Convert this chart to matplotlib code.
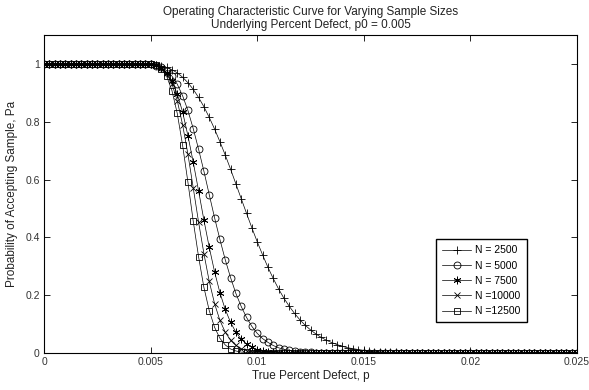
import numpy as np
import matplotlib
matplotlib.use('Agg')
import matplotlib.pyplot as plt

plt.rcParams['font.family'] = ['Liberation Sans', 'DejaVu Sans']

# sampled defect rates (0 to 0.025, step 0.00025)
p = np.linspace(0, 0.025, 101)

labels = ['N = 2500', 'N = 5000', 'N = 7500', 'N =10000', 'N =12500']
# MATLAB-style markers: plus, circle, asterisk, cross, square
markers = ['+', 'o', (6, 2, 0), 'x', 's']
msizes = [6, 5, 5.5, 4, 5]

pa_2500 = [1, 1, 1, 1, 1, 1, 1, 1, 1, 1, 1, 1, 1, 1, 1, 1, 1, 1, 1,
           0.999, 0.998, 0.996, 0.993, 0.988, 0.980, 0.969, 0.954, 0.935, 0.912,
           0.884, 0.852, 0.815, 0.775, 0.731, 0.685, 0.636, 0.585, 0.534, 0.483,
           0.433, 0.385, 0.340, 0.297, 0.258, 0.222, 0.190, 0.162, 0.137, 0.115,
           0.096, 0.080, 0.066, 0.054, 0.044, 0.036, 0.029, 0.023, 0.018, 0.015,
           0.012, 0.009, 0.007, 0.005, 0.004, 0.003, 0.002, 0.002, 0.001, 0.001,
           0, 0, 0, 0, 0, 0, 0, 0, 0, 0, 0, 0, 0, 0, 0, 0,
           0, 0, 0, 0, 0, 0, 0, 0, 0, 0, 0, 0, 0, 0, 0, 0]
pa_5000 = [1, 1, 1, 1, 1, 1, 1, 1, 1, 1, 1, 1, 1, 1, 1, 1, 1, 1, 1,
           0.999, 0.998, 0.994, 0.988, 0.977, 0.958, 0.930, 0.890, 0.839, 0.776,
           0.705, 0.629, 0.548, 0.468, 0.393, 0.323, 0.261, 0.206, 0.161, 0.123,
           0.092, 0.068, 0.050, 0.037, 0.026, 0.018, 0.013, 0.009, 0.006, 0.004,
           0.003, 0.002, 0.001,
           0, 0, 0, 0, 0, 0, 0, 0, 0, 0, 0, 0, 0, 0, 0, 0, 0, 0, 0, 0, 0, 0, 0, 0, 0,
           0, 0, 0, 0, 0, 0, 0, 0, 0, 0, 0, 0, 0, 0, 0, 0, 0, 0, 0, 0, 0, 0, 0, 0]
pa_7500 = [1, 1, 1, 1, 1, 1, 1, 1, 1, 1, 1, 1, 1, 1, 1, 1, 1, 1, 1, 1,
           0.998, 0.995, 0.987, 0.970, 0.941, 0.896, 0.834, 0.752, 0.660, 0.561,
           0.460, 0.366, 0.281, 0.209, 0.151, 0.106, 0.072, 0.048, 0.031, 0.020,
           0.012, 0.007, 0.004, 0.002, 0.001,
           0, 0, 0, 0, 0, 0, 0, 0, 0, 0, 0, 0, 0, 0, 0, 0, 0, 0, 0, 0, 0, 0, 0, 0, 0, 0, 0, 0,
           0, 0, 0, 0, 0, 0, 0, 0, 0, 0, 0, 0, 0, 0, 0, 0, 0, 0, 0, 0, 0, 0, 0, 0, 0, 0, 0, 0]
pa_10000 = [1, 1, 1, 1, 1, 1, 1, 1, 1, 1, 1, 1, 1, 1, 1, 1, 1, 1, 1, 1,
            0.999, 0.996, 0.987, 0.968, 0.931, 0.873, 0.790, 0.688, 0.571, 0.453,
            0.344, 0.248, 0.171, 0.113, 0.072, 0.044, 0.026, 0.015, 0.008, 0.004,
            0.002, 0.001,
            0, 0, 0, 0, 0, 0, 0, 0, 0, 0, 0, 0, 0, 0, 0, 0, 0, 0, 0, 0, 0, 0, 0, 0, 0, 0, 0, 0, 0, 0,
            0, 0, 0, 0, 0, 0, 0, 0, 0, 0, 0, 0, 0, 0, 0, 0, 0, 0, 0, 0, 0, 0, 0, 0, 0, 0, 0, 0, 0]
pa_12500 = [1, 1, 1, 1, 1, 1, 1, 1, 1, 1, 1, 1, 1, 1, 1, 1, 1, 1, 1, 1,
            0.999, 0.995, 0.984, 0.958, 0.908, 0.829, 0.719, 0.591, 0.456, 0.333,
            0.227, 0.147, 0.089, 0.051, 0.028, 0.014, 0.007, 0.003, 0.002, 0.001,
            0, 0, 0, 0, 0, 0, 0, 0, 0, 0, 0, 0, 0, 0, 0, 0, 0, 0, 0, 0, 0, 0, 0, 0, 0, 0, 0, 0, 0, 0, 0,
            0, 0, 0, 0, 0, 0, 0, 0, 0, 0, 0, 0, 0, 0, 0, 0, 0, 0, 0, 0, 0, 0, 0, 0, 0, 0, 0, 0, 0, 0]

series = [pa_2500, pa_5000, pa_7500, pa_10000, pa_12500]

fig = plt.figure(figsize=(5.89, 3.90), dpi=100)
ax = fig.add_axes([44/589, 1 - 353/390, 533/589, 318/390])

for pa, lab, mk, ms in zip(series, labels, markers, msizes):
    n = min(len(p), len(pa))
    ax.plot(p[:n], pa[:n], color='black', linewidth=0.5, marker=mk,
            markersize=ms, markerfacecolor='none', markeredgecolor='black',
            markeredgewidth=0.6, label=lab)

ax.set_xlim(0, 0.025)
ax.set_ylim(0, 1.1)
ax.set_xticks([0, 0.005, 0.01, 0.015, 0.02, 0.025])
ax.set_xticklabels(['0', '0.005', '0.01', '0.015', '0.02', '0.025'])
ax.set_yticks([0, 0.2, 0.4, 0.6, 0.8, 1])
ax.set_yticklabels(['0', '0.2', '0.4', '0.6', '0.8', '1'])
ax.tick_params(direction='in', top=True, right=True, length=4, width=0.6,
               labelsize=7.5, colors='black', labelcolor='#333333', pad=3)
for s in ax.spines.values():
    s.set_linewidth(0.8)

ax.set_xlabel('True Percent Defect, p', fontsize=8.5, labelpad=2, color='#222222')
ax.set_ylabel('Probability of Accepting Sample, Pa', fontsize=8.5, labelpad=5,
              color='#222222')
ax.set_title('Operating Characteristic Curve for Varying Sample Sizes\n'
             'Underlying Percent Defect, p0 = 0.005', fontsize=8.5, pad=5,
             linespacing=1.15, color='#222222')

ax.legend(loc='upper right', bbox_to_anchor=(0.906, 0.358), fontsize=7.5,
          frameon=True, fancybox=False, edgecolor='black', framealpha=1,
          handlelength=2.8, borderaxespad=0, labelspacing=0.5,
          borderpad=0.6, handletextpad=0.4)

fig.savefig('out.png', dpi=100)
